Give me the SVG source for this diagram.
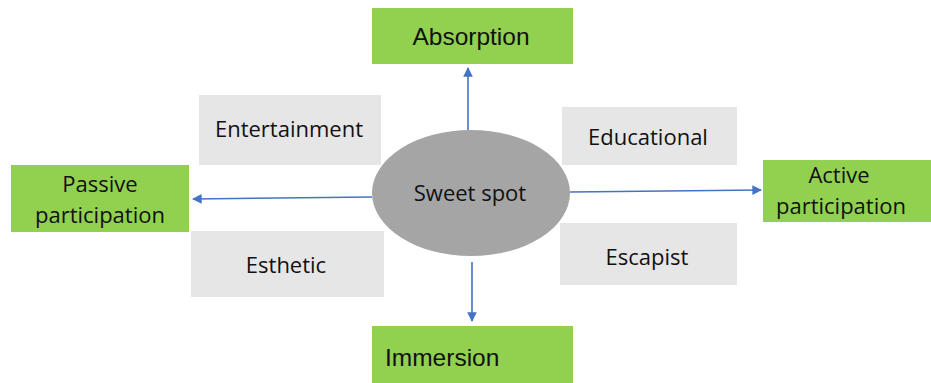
<svg xmlns="http://www.w3.org/2000/svg" width="931" height="383" viewBox="0 0 931 383">
<defs>
<style>
.green{fill:#92d050}
.gray{fill:#e7e6e6}
.cal{font-family:"Open Sans","Liberation Sans",sans-serif;font-size:22px;fill:#111}
.hel{font-family:"Liberation Sans",Arial,sans-serif;font-size:24.5px;fill:#111}
.conn{stroke:#4472c4;stroke-width:1.6;fill:none;marker-end:url(#ah)}
</style>
<marker id="ah" viewBox="0 0 10 10" refX="9" refY="5" markerWidth="6" markerHeight="6" orient="auto" markerUnits="strokeWidth">
<path d="M0,0 L10,5 L0,10 z" fill="#4472c4"/>
</marker>
</defs>
<rect width="931" height="383" fill="#fff"/>
<g id="absorption"><rect class="green" x="372" y="8" width="201" height="56"/><text class="hel" x="471" y="45" text-anchor="middle">Absorption</text></g>
<g id="immersion"><rect class="green" x="372" y="326" width="201" height="57"/><text class="hel" x="385" y="366">Immersion</text></g>
<g id="passive"><rect class="green" x="11" y="165" width="178" height="67"/><text class="cal" x="100" y="192" text-anchor="middle">Passive</text><text class="cal" x="100" y="223" text-anchor="middle">participation</text></g>
<g id="active"><rect class="green" x="763" y="160" width="168" height="62"/><text class="cal" x="839" y="183" text-anchor="middle">Active</text><text class="cal" x="841" y="214" text-anchor="middle">participation</text></g>
<g id="entertainment"><rect class="gray" x="199" y="95" width="182" height="70"/><text class="cal" x="289" y="137" text-anchor="middle">Entertainment</text></g>
<g id="esthetic"><rect class="gray" x="191" y="231" width="193" height="66"/><text class="cal" x="286" y="273" text-anchor="middle">Esthetic</text></g>
<g id="educational"><rect class="gray" x="562" y="107" width="175" height="58"/><text class="cal" x="648" y="145" text-anchor="middle">Educational</text></g>
<g id="escapist"><rect class="gray" x="560" y="223" width="177" height="62"/><text class="cal" x="647" y="265" text-anchor="middle">Escapist</text></g>
<g id="sweetspot"><ellipse cx="471" cy="193" rx="99" ry="63" fill="#a5a5a5"/><text class="cal" x="470" y="201" text-anchor="middle">Sweet spot</text></g>
<g id="connectors">
<line class="conn" x1="468" y1="130" x2="468" y2="68"/>
<line class="conn" x1="472" y1="262" x2="472" y2="321"/>
<line class="conn" x1="372" y1="197" x2="193" y2="199"/>
<line class="conn" x1="570" y1="192" x2="761" y2="190"/>
</g>
</svg>
